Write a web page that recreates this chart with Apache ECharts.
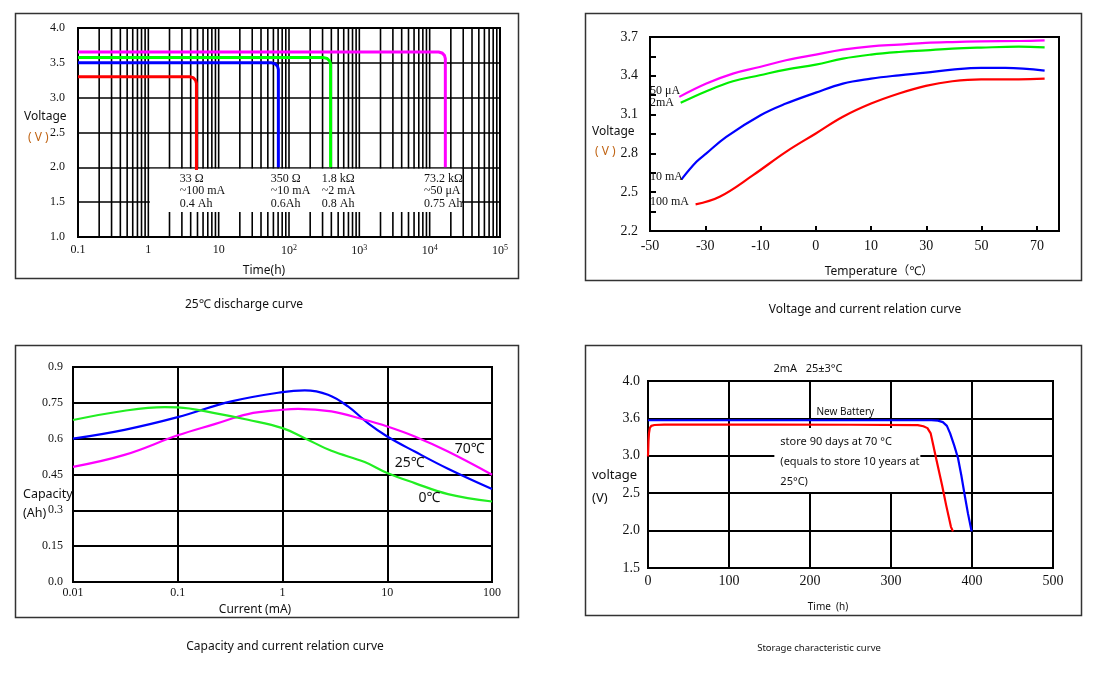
<!DOCTYPE html>
<html><head><meta charset="utf-8">
<script src="https://cdn.jsdelivr.net/npm/echarts@6/dist/echarts.min.js"></script>
<style>html,body{margin:0;padding:0;background:#fff}#c{width:1104px;height:690px}</style>
</head><body><div id="c"></div>
<script>
// ---------- Panel 1: 25℃ discharge curve ----------
const p1XTickLabels = ['0.1', '1', '10', '10^2', '10^3', '10^4', '10^5'];
const p1Red     = [[0.1, 3.30], [3.87, 3.30], [4.33, 3.287], [4.69, 3.252], [4.83, 3.205], [4.83, 1.96]];
const p1Blue    = [[0.1, 3.50], [56.6, 3.50], [63.2, 3.487], [68.5, 3.452], [70.6, 3.405], [70.6, 2.0]];
const p1Green   = [[0.1, 3.575], [313, 3.575], [349, 3.562], [378, 3.527], [390, 3.48], [390, 2.0]];
const p1Magenta = [[0.1, 3.655], [13400, 3.655], [14960, 3.642], [16220, 3.607], [16700, 3.56], [16700, 2.0]];
const p1Notes   = ['33 Ω\n~100 mA\n0.4 Ah', '350 Ω\n~10 mA\n0.6Ah', '1.8 kΩ\n~2 mA\n0.8 Ah', '73.2 kΩ\n~50 μA\n0.75 Ah'];
const p1NoteX   = [2.8, 55.2, 293, 8280];
const p1NoteY   = [1.93, 1.93, 1.93, 1.93];
const p1LabelBox = [1.05, 1.979, 28500, 1.359];

// ---------- Panel 2: Voltage and current relation curve ----------
const p2TempTicks = [-50, -30, -10, 0, 10, 30, 50, 70];
const p2YTicks = [2.2, 2.5, 2.8, 3.1, 3.4, 3.7];
const p2Names = ['50 μA', '2mA', '10 mA', '100 mA'];
const p2MagT = [-39.4, -29.6, -20, -10.3, -5.4, 0, 4.9, 10, 20.1, 29.8, 39.4, 49.8, 63.4, 72.8];
const p2MagV = [3.237, 3.340, 3.417, 3.468, 3.520, 3.564, 3.602, 3.628, 3.641, 3.654, 3.661, 3.666, 3.669, 3.674];
const p2GrnT = [-38.9, -29.6, -20, -10.3, -5.4, 0, 4.9, 10, 20.1, 29.8, 39.4, 49.8, 63.4, 72.8];
const p2GrnV = [3.191, 3.281, 3.358, 3.404, 3.448, 3.486, 3.533, 3.564, 3.584, 3.597, 3.610, 3.618, 3.625, 3.620];
const p2BluT = [-38.6, -33.2, -29.6, -22.4, -10, -5.4, 0, 4.9, 10, 20.1, 29.8, 39.4, 49.8, 58.6, 72.8];
const p2BluV = [2.599, 2.735, 2.800, 2.928, 3.095, 3.185, 3.270, 3.340, 3.378, 3.404, 3.425, 3.448, 3.461, 3.461, 3.440];
const p2RedT = [-33.5, -24.8, -12.7, -5.4, 0, 4.9, 10, 20.1, 29.8, 39.4, 49.8, 63.4, 72.8];
const p2RedV = [2.406, 2.465, 2.632, 2.812, 2.954, 3.083, 3.185, 3.263, 3.322, 3.358, 3.373, 3.373, 3.378];
const p2NameV = [3.281, 3.188, 2.617, 2.424];

// ---------- Panel 3: Capacity and current relation curve ----------
const p3XTickLabels = ['0.01', '0.1', '1', '10', '100'];
const p3YTickLabels = ['0.0', '0.15', '0.3', '0.45', '0.6', '0.75', '0.9'];
const p3BluI = [0.01, 0.031, 0.1, 0.325, 1, 1.63, 2.72, 4.22, 6.53, 10, 18.3, 38, 100];
const p3BluC = [0.600, 0.637, 0.690, 0.756, 0.795, 0.802, 0.784, 0.735, 0.665, 0.609, 0.546, 0.474, 0.389];
const p3GrnI = [0.01, 0.031, 0.075, 0.1, 0.225, 0.468, 1, 1.63, 2.93, 6.09, 10, 18.3, 38, 100];
const p3GrnC = [0.678, 0.717, 0.732, 0.731, 0.707, 0.679, 0.644, 0.602, 0.549, 0.502, 0.456, 0.414, 0.368, 0.337];
const p3MagI = [0.01, 0.031, 0.1, 0.225, 0.468, 1, 1.41, 2.93, 6.09, 10, 18.3, 38, 100];
const p3MagC = [0.482, 0.532, 0.614, 0.661, 0.703, 0.721, 0.725, 0.714, 0.679, 0.651, 0.609, 0.546, 0.449];
const p3Names = ['70℃', '25℃', '0℃'];
const p3NameX = [44.1, 11.8, 19.9];
const p3NameY = [0.558, 0.499, 0.352];

// ---------- Panel 4: Storage characteristic curve ----------
const p4YTickLabels = ['1.5', '2.0', '2.5', '3.0', '3.6', '4.0'];
const p4New  = [[0, 3.475], [200, 3.475], [350, 3.475], [358, 3.47], [364, 3.45], [369, 3.40], [373, 3.30], [378, 3.14], [382.7, 2.97], [386.8, 2.74], [390.9, 2.48], [395, 2.23], [399.5, 1.99]];
const p4Stored = [[0, 2.99], [0.6, 3.2], [1.2, 3.3], [2.2, 3.37], [4, 3.40], [8, 3.412], [20, 3.418], [150, 3.418], [250, 3.415], [333, 3.41], [340, 3.395], [345, 3.37], [349, 3.30], [352, 3.15], [356, 2.95], [363, 2.61], [368, 2.344], [374, 2.05], [376.5, 1.99]];
const p4BoxText = 'store 90 days at 70 °C\n(equals to store 10 years at\n25°C)';

// gridline positions for log panel (structure only)
const p1GridX = [];
for (let d = -1; d <= 4; d++) for (let k = 1; k <= 9; k++) p1GridX.push(k * Math.pow(10, d));
p1GridX.push(1e5);

function tempToPos(t) {
  const tk = p2TempTicks;
  for (let i = 0; i < tk.length - 1; i++) {
    if (t <= tk[i + 1]) return i + (t - tk[i]) / (tk[i + 1] - tk[i]);
  }
  const n = tk.length - 1;
  return n + (t - tk[n]) / (tk[n] - tk[n - 1]);
}
function zip(a, b) { return a.map((v, i) => [v, b[i]]); }

const SERIF = 'Liberation Serif';
const SANS = 'Noto Sans, Noto Sans CJK SC';
const TXT = '#111';

const chart = echarts.init(document.getElementById('c'));

function sup(s) {
  const m = s.split('^');
  return m.length > 1 ? m[0] + '{s|' + m[1] + '}' : s;
}

function lineSeries(x, y, data, color, width, smooth, z) {
  return { type: 'line', xAxisIndex: x, yAxisIndex: y, data: data, symbol: 'none', smooth: smooth || false,
    lineStyle: { color: color, width: width }, itemStyle: { color: color }, z: z || 4, silent: true, animation: false };
}
function labelSeries(x, y, data, font, size, extra) {
  return { type: 'scatter', xAxisIndex: x, yAxisIndex: y, symbolSize: 0.01, silent: true, z: 6,
    itemStyle: { color: '#fff', opacity: 1 }, data: data,
    label: Object.assign({ show: true, formatter: p => p.data[2], position: [0, 0], align: 'left', verticalAlign: 'middle',
      fontFamily: font, fontSize: size, color: TXT, opacity: 1, textBorderWidth: 0, textShadowBlur: 0 }, extra || {}),
    emphasis: { disabled: true } };
}

const blackSplit = w => ({ show: true, lineStyle: { color: '#000', width: w } });

const texts = [
  // captions
  ['25℃ discharge curve', 244, 305, 12, 'center', TXT],
  ['Voltage and current relation curve', 865, 310, 12, 'center', TXT],
  ['Capacity and current relation curve', 285, 647, 12, 'center', TXT],
  ['Storage characteristic curve', 819, 648, 9.5, 'center', TXT],
  // axis names
  ['Voltage', 24, 117, 12, 'left', TXT],
  ['( V )', 28, 138, 12, 'left', '#c06414'],
  ['Time(h)', 264, 271, 12, 'center', TXT],
  ['Voltage', 592, 132, 12, 'left', TXT],
  ['( V )', 595, 152, 12, 'left', '#c06414'],
  ['Temperature（℃）', 879, 272, 12, 'center', TXT],
  ['Capacity', 23, 494, 12.5, 'left', TXT],
  ['(Ah)', 23, 513, 12.5, 'left', TXT],
  ['Current (mA)', 255, 610, 12, 'center', TXT],
  ['voltage', 592, 475, 13, 'left', TXT],
  ['(V)', 592, 498, 13, 'left', TXT],
  ['Time  (h)', 828, 607, 10, 'center', TXT],
  ['2mA   25±3°C', 808, 369, 11, 'center', TXT]
];

const graphic = [
  { type: 'rect', shape: { x: 15.5, y: 13.5, width: 503, height: 265 }, style: { fill: 'none', stroke: '#333', lineWidth: 1.5 } },
  { type: 'rect', shape: { x: 585.5, y: 13.5, width: 496, height: 267 }, style: { fill: 'none', stroke: '#333', lineWidth: 1.5 } },
  { type: 'rect', shape: { x: 15.5, y: 345.5, width: 503, height: 272 }, style: { fill: 'none', stroke: '#333', lineWidth: 1.5 } },
  { type: 'rect', shape: { x: 585.5, y: 345.5, width: 496, height: 270 }, style: { fill: 'none', stroke: '#333', lineWidth: 1.5 } }
].concat(texts.map(t => ({ type: 'text', x: t[1], y: t[2], z: 10,
  style: { text: t[0], fontSize: t[3], fontFamily: SANS, fill: t[5], align: t[4], verticalAlign: 'middle' } })));

const option = {
  animation: false,
  backgroundColor: '#fff',
  graphic: graphic,
  grid: [
    { left: 78, top: 28, width: 422, height: 209, show: true, borderColor: '#000', borderWidth: 2, outerBoundsMode: 'none' },
    { left: 650, top: 37, width: 409, height: 194, show: true, borderColor: '#000', borderWidth: 2, outerBoundsMode: 'none' },
    { left: 73, top: 367, width: 419, height: 215, show: true, borderColor: '#000', borderWidth: 2, outerBoundsMode: 'none' },
    { left: 648, top: 381, width: 405, height: 187, show: true, borderColor: '#000', borderWidth: 2, outerBoundsMode: 'none' }
  ],
  xAxis: [
    { gridIndex: 0, type: 'log', logBase: 10, min: 0.1, max: 1e5,
      axisLine: { show: false }, axisTick: { show: false }, splitLine: { show: false },
      axisLabel: { margin: 7, fontFamily: SERIF, fontSize: 12, color: TXT, showMinLabel: true, showMaxLabel: true,
        formatter: v => sup(p1XTickLabels[Math.round(Math.log10(v)) + 1] || ''),
        rich: { s: { fontFamily: SERIF, fontSize: 8, color: TXT, verticalAlign: 'top', padding: [0, 0, 6, 0] } } } },
    { gridIndex: 1, type: 'value', min: 0, max: 7.4,
      axisLine: { show: true, lineStyle: { color: '#000', width: 2 } },
      axisTick: { show: true, inside: true, length: 5, customValues: [1, 2, 3, 4, 5, 6, 7], lineStyle: { color: '#000', width: 2 } },
      splitLine: { show: false },
      axisLabel: { margin: 8, fontFamily: SERIF, fontSize: 14, color: TXT, customValues: [0, 1, 2, 3, 4, 5, 6, 7],
        formatter: v => String(p2TempTicks[Math.round(v)]) } },
    { gridIndex: 2, type: 'log', logBase: 10, min: 0.01, max: 100,
      axisLine: { show: false }, axisTick: { show: false }, splitLine: blackSplit(2),
      axisLabel: { margin: 5, fontFamily: SERIF, fontSize: 12, color: TXT, showMinLabel: true, showMaxLabel: true,
        formatter: v => p3XTickLabels[Math.round(Math.log10(v)) + 2] || '' } },
    { gridIndex: 3, type: 'value', min: 0, max: 500, interval: 100,
      axisLine: { show: false }, axisTick: { show: false }, splitLine: blackSplit(2),
      axisLabel: { margin: 6, fontFamily: SERIF, fontSize: 14, color: TXT, showMinLabel: true, showMaxLabel: true } }
  ],
  yAxis: [
    { gridIndex: 0, type: 'value', min: 1, max: 4, interval: 0.5,
      axisLine: { show: false }, axisTick: { show: false }, splitLine: blackSplit(1.6),
      axisLabel: { margin: 13, fontFamily: SERIF, fontSize: 12, color: TXT, formatter: v => v.toFixed(1) } },
    { gridIndex: 1, type: 'value', min: 2.2, max: 3.7,
      axisLine: { show: true, lineStyle: { color: '#000', width: 2 } },
      axisTick: { show: true, inside: true, length: 6, customValues: [2.35, 2.5, 2.65, 2.8, 2.95, 3.1, 3.25, 3.4, 3.55], lineStyle: { color: '#000', width: 2 } },
      splitLine: { show: false },
      axisLabel: { margin: 12, fontFamily: SERIF, fontSize: 14, color: TXT, customValues: p2YTicks, formatter: v => v.toFixed(1) } },
    { gridIndex: 2, type: 'value', min: 0, max: 0.9, interval: 0.15,
      axisLine: { show: false }, axisTick: { show: false }, splitLine: blackSplit(2),
      axisLabel: { margin: 10, fontFamily: SERIF, fontSize: 12, color: TXT, formatter: v => p3YTickLabels[Math.round(v / 0.15)] } },
    { gridIndex: 3, type: 'value', min: 1.5, max: 4, interval: 0.5,
      axisLine: { show: false }, axisTick: { show: false }, splitLine: blackSplit(2),
      axisLabel: { margin: 8, fontFamily: SERIF, fontSize: 14, color: TXT, formatter: v => p4YTickLabels[Math.round((v - 1.5) / 0.5)] } }
  ],
  series: [
    // panel 1 grid verticals
    { type: 'custom', xAxisIndex: 0, yAxisIndex: 0, z: 2, silent: true, data: p1GridX.map(v => [v, 1]),
      renderItem: (params, api) => {
        const a = api.coord([api.value(0), 4]); const b = api.coord([api.value(0), 1]);
        return { type: 'line', shape: { x1: a[0], y1: a[1], x2: b[0], y2: b[1] }, style: { stroke: '#000', lineWidth: 1.6 } };
      } },
    // white label region
    { type: 'custom', xAxisIndex: 0, yAxisIndex: 0, z: 3, silent: true, data: [p1LabelBox],
      renderItem: (params, api) => {
        const a = api.coord([api.value(0), api.value(1)]); const b = api.coord([api.value(2), api.value(3)]);
        return { type: 'rect', shape: { x: a[0], y: a[1], width: b[0] - a[0], height: b[1] - a[1] }, style: { fill: '#fff' } };
      } },
    lineSeries(0, 0, p1Red, '#ff0000', 3),
    lineSeries(0, 0, p1Blue, '#0000ff', 3),
    lineSeries(0, 0, p1Green, '#00ff00', 3),
    lineSeries(0, 0, p1Magenta, '#ff00ff', 3),
    labelSeries(0, 0, p1Notes.map((t, i) => [p1NoteX[i], p1NoteY[i], t]), SERIF, 12, { verticalAlign: 'top', lineHeight: 12.5 }),

    // panel 2
    lineSeries(1, 1, zip(p2MagT.map(tempToPos), p2MagV), '#ff00ff', 2.2, 0.4),
    lineSeries(1, 1, zip(p2GrnT.map(tempToPos), p2GrnV), '#00ee00', 2.2, 0.4),
    lineSeries(1, 1, zip(p2BluT.map(tempToPos), p2BluV), '#0000ff', 2.2, 0.4),
    lineSeries(1, 1, zip(p2RedT.map(tempToPos), p2RedV), '#ff0000', 2.2, 0.4),
    labelSeries(1, 1, p2Names.map((t, i) => [0.0, p2NameV[i], t]), SERIF, 12),

    // panel 3
    lineSeries(2, 2, zip(p3BluI, p3BluC), '#0000ff', 2.2, 0.4),
    lineSeries(2, 2, zip(p3MagI, p3MagC), '#ff00ff', 2.2, 0.4),
    lineSeries(2, 2, zip(p3GrnI, p3GrnC), '#22ee22', 2.2, 0.4),
    labelSeries(2, 2, p3Names.map((t, i) => [p3NameX[i], p3NameY[i], t]), SANS, 14),

    // panel 4
    lineSeries(3, 3, p4New, '#0000ff', 2.2),
    lineSeries(3, 3, p4Stored, '#ff0000', 2.2),
    labelSeries(3, 3, [[208, 3.583, 'New Battery']], SANS, 10),
    labelSeries(3, 3, [[156, 3.37, p4BoxText]], SANS, 11, { verticalAlign: 'top', lineHeight: 20, backgroundColor: '#fff',
      padding: [4, 4, 0, 6], width: 136, overflow: 'none' })
  ]
};
chart.setOption(option);
</script>
</body></html>
